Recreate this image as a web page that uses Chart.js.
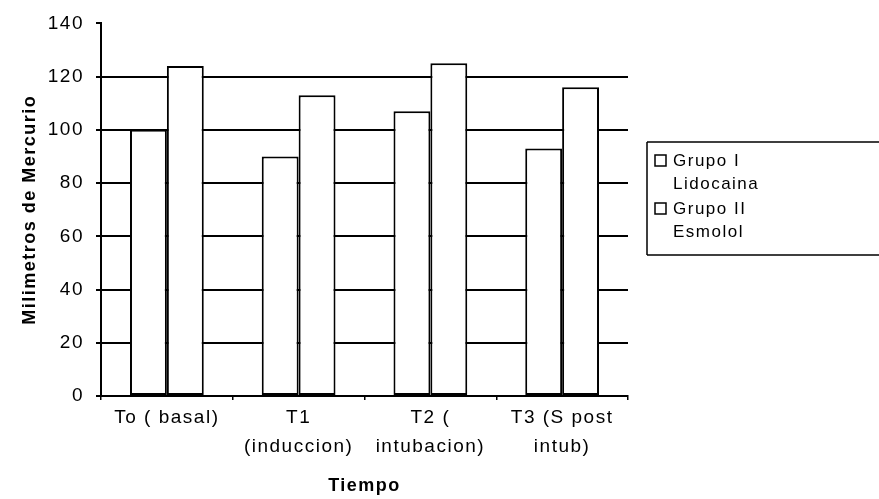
<!DOCTYPE html>
<html>
<head>
<meta charset="utf-8">
<script src="https://cdn.jsdelivr.net/npm/chart.js@4/dist/chart.umd.min.js"></script>
<style>
  html, body { margin: 0; padding: 0; background: #fff; }
  #wrap { width: 879px; height: 499px; position: relative; }
</style>
</head>
<body>
<div id="wrap"><canvas id="c" width="879" height="499"></canvas></div>
<script>
const categories = ['To ( basal)', ['T1', '(induccion)'], ['T2 (', 'intubacion)'], ['T3 (S post', 'intub)']];
const seriesNames = [['Grupo I', 'Lidocaina'], ['Grupo II', 'Esmolol']];
const grupo1 = [100, 90, 107, 93];
const grupo2 = [124, 113, 125, 116];
const yTicks = [0, 20, 40, 60, 80, 100, 120, 140];
const yTitle = 'Milimetros de Mercurio';
const xTitle = 'Tiempo';

const FONT = "'Liberation Sans', Arial, Helvetica, sans-serif";
const SPACING = '1.5px';

const spacingPlugin = {
  id: 'spacing',
  beforeLayout(chart) { chart.ctx.letterSpacing = SPACING; },
  beforeDraw(chart) { chart.ctx.letterSpacing = SPACING; }
};

const boxLegend = {
  id: 'boxLegend',
  afterDraw(chart) {
    const ctx = chart.ctx;
    const a = chart.chartArea;
    const x0 = a.right + 19, y0 = 142, y1 = 255;
    ctx.save();
    ctx.letterSpacing = SPACING;
    ctx.strokeStyle = '#000';
    ctx.lineWidth = 1.5;
    ctx.beginPath();
    ctx.moveTo(x0, y0); ctx.lineTo(chart.width, y0);
    ctx.moveTo(x0, y0); ctx.lineTo(x0, y1);
    ctx.moveTo(x0, y1); ctx.lineTo(chart.width, y1);
    ctx.stroke();
    ctx.font = '17px ' + FONT;
    ctx.textBaseline = 'middle';
    ctx.textAlign = 'left';
    const itemTops = [155, 203];
    chart.data.datasets.forEach((ds, i) => {
      const ty = itemTops[i];
      ctx.fillStyle = '#fff';
      ctx.fillRect(x0 + 8, ty, 11, 11);
      ctx.strokeStyle = '#000';
      ctx.lineWidth = 1.5;
      ctx.strokeRect(x0 + 8, ty, 11, 11);
      ctx.fillStyle = '#000';
      seriesNames[i].forEach((line, j) => {
        ctx.fillText(line, x0 + 26, ty + 6 + j * 23);
      });
    });
    ctx.restore();
  }
};

const barStyle = {
  backgroundColor: '#ffffff',
  borderColor: '#000000',
  borderWidth: 2,
  borderSkipped: false,
  categoryPercentage: 0.56,
  barPercentage: 1.0
};

new Chart(document.getElementById('c'), {
  type: 'bar',
  data: {
    labels: categories,
    datasets: [
      Object.assign({ label: seriesNames[0].join(' '), data: grupo1 }, barStyle),
      Object.assign({ label: seriesNames[1].join(' '), data: grupo2 }, barStyle)
    ]
  },
  options: {
    responsive: false,
    devicePixelRatio: 1,
    animation: false,
    layout: { padding: { top: 23, right: 251, bottom: 0, left: 0 } },
    plugins: {
      colors: { enabled: false },
      legend: { display: false },
      tooltip: { enabled: false }
    },
    scales: {
      x: {
        offset: true,
        grid: {
          display: true,
          drawOnChartArea: false,
          drawTicks: true,
          tickLength: 4,
          color: '#000',
          lineWidth: 1.5
        },
        border: { display: true, color: '#000', width: 2 },
        ticks: {
          color: '#000',
          padding: 4,
          maxRotation: 0,
          autoSkip: false,
          font: { family: FONT, size: 19, lineHeight: 1.5 }
        },
        title: {
          display: true,
          text: xTitle,
          color: '#000',
          padding: { top: 0, bottom: 2 },
          font: { family: FONT, size: 18, weight: 'bold', lineHeight: 1.2 }
        },
        afterFit(scale) { scale.height = 103; }
      },
      y: {
        min: 0,
        max: 140,
        afterBuildTicks(scale) { scale.ticks = yTicks.map(v => ({ value: v })); },
        grid: {
          display: true,
          drawTicks: true,
          tickLength: 5,
          color: (c) => (c.tick && c.tick.value === 140) ? 'rgba(0,0,0,0)' : '#000',
          tickColor: '#000',
          lineWidth: 2
        },
        border: { display: true, color: '#000', width: 2 },
        ticks: {
          color: '#000',
          padding: 12,
          font: { family: FONT, size: 19 }
        },
        title: {
          display: true,
          text: yTitle,
          color: '#000',
          padding: { top: 19, bottom: 0 },
          font: { family: FONT, size: 18, weight: 'bold', lineHeight: 1.2 }
        },
        afterFit(scale) { scale.width = 101; }
      }
    }
  },
  plugins: [spacingPlugin, boxLegend]
});
</script>
</body>
</html>
